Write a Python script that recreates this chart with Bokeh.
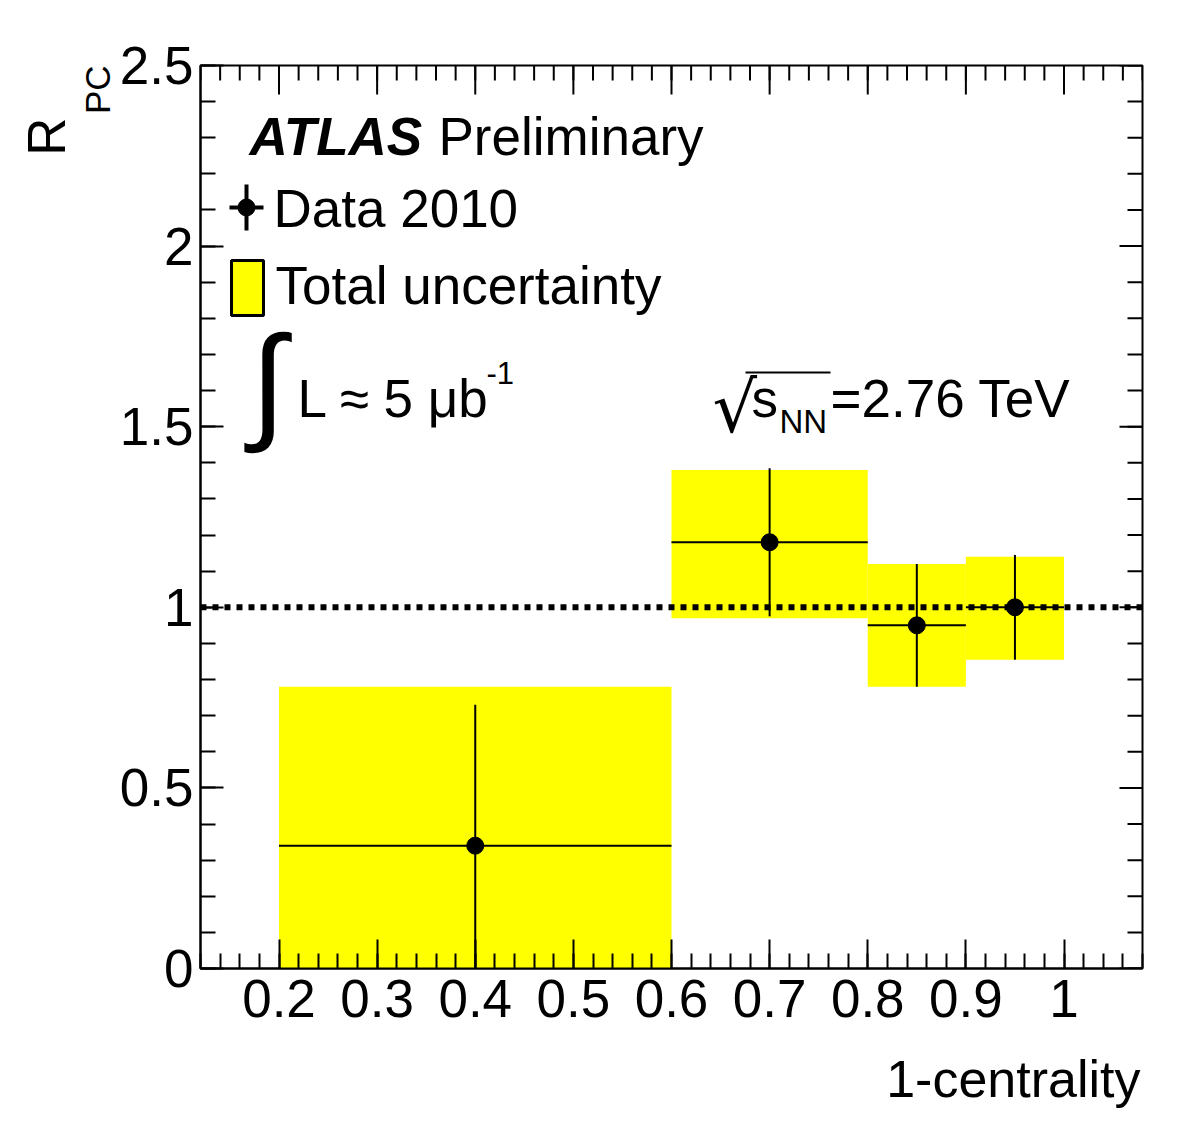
import math
from bokeh.plotting import figure
from bokeh.models import Label, Span, FixedTicker, Range1d, ColumnDataSource, Title
from bokeh.embed import file_html
from bokeh.resources import INLINE

# ---------------- data ----------------
bin_lo = [0.2, 0.6, 0.8, 0.9]
bin_hi = [0.6, 0.8, 0.9, 1.0]
bin_center = [0.4, 0.7, 0.85, 0.95]
rpc = [0.34, 1.18, 0.95, 1.00]
stat_err = [0.39, 0.205, 0.17, 0.145]
tot_err_up = [0.44, 0.20, 0.17, 0.14]
tot_err_dn = [0.44, 0.21, 0.17, 0.145]

x_ticks = [0.2, 0.3, 0.4, 0.5, 0.6, 0.7, 0.8, 0.9, 1.0]
x_tick_labels = ["0.2", "0.3", "0.4", "0.5", "0.6", "0.7", "0.8", "0.9", "1"]
y_ticks = [0.0, 0.5, 1.0, 1.5, 2.0, 2.5]
y_tick_labels = ["0", "0.5", "1", "1.5", "2", "2.5"]

X0, X1 = 0.12, 1.08
Y0, Y1 = 0.0, 2.5

FONT = "Liberation Sans"

# frame placement in pixels
FL, FR, FT, FB = 200, 1142, 65, 968
W, H = 1178, 1137
p = figure(width=W, height=H, x_range=Range1d(X0, X1), y_range=Range1d(Y0, Y1),
           output_backend="svg", toolbar_location=None,
           min_border_left=FL, min_border_right=W - FR,
           min_border_top=FT, min_border_bottom=H - FB)
p.grid.visible = False
p.background_fill_color = "white"
p.border_fill_color = "white"
p.outline_line_color = "black"
p.outline_line_width = 2

DX = (X1 - X0) / (FR - FL)   # data per pixel (x)
DY = (Y1 - Y0) / (FB - FT)   # data per pixel (y)


def PX(px):
    return X0 + (px - FL) * DX


def PY(py):
    return Y0 + (FB - py) * DY


x_minor = [round(0.12 + 0.02 * i, 2) for i in range(49)]
y_minor = [round(0.1 * i, 1) for i in range(26)]

X_MAJ, Y_MAJ, MIN_LEN = 29, 23, 15


def style_axis(ax, ticks, minor, major_len, labels, standoff):
    ax.ticker = FixedTicker(ticks=ticks, minor_ticks=minor)
    ax.axis_line_color = "black"
    ax.axis_line_width = 2
    ax.major_tick_line_color = "black"
    ax.major_tick_line_width = 2
    ax.minor_tick_line_color = "black"
    ax.minor_tick_line_width = 2
    ax.major_tick_in = major_len
    ax.major_tick_out = 0
    ax.minor_tick_in = MIN_LEN
    ax.minor_tick_out = 0
    ax.major_label_overrides = {t: l for t, l in zip(ticks, labels)}
    ax.major_label_text_font = FONT
    ax.major_label_text_font_size = "53px"
    ax.major_label_text_color = "black"
    ax.major_label_standoff = standoff


style_axis(p.xaxis[0], x_ticks, x_minor, X_MAJ, x_tick_labels, 11)
style_axis(p.yaxis[0], y_ticks, y_minor, Y_MAJ, y_tick_labels, 7)

# mirrored ticks on top and right edges (no labels)
tick_kw = dict(line_color="black", line_width=2)
p.segment(x0=x_ticks, x1=x_ticks, y0=[Y1] * len(x_ticks),
          y1=[Y1 - X_MAJ * DY] * len(x_ticks), **tick_kw)
p.segment(x0=x_minor, x1=x_minor, y0=[Y1] * len(x_minor),
          y1=[Y1 - MIN_LEN * DY] * len(x_minor), **tick_kw)
p.segment(x0=[X1] * len(y_ticks), x1=[X1 - Y_MAJ * DX] * len(y_ticks),
          y0=y_ticks, y1=y_ticks, **tick_kw)
p.segment(x0=[X1] * len(y_minor), x1=[X1 - MIN_LEN * DX] * len(y_minor),
          y0=y_minor, y1=y_minor, **tick_kw)

# ---------------- data marks ----------------
src = ColumnDataSource(dict(
    lo=bin_lo, hi=bin_hi, x=bin_center, y=rpc,
    top=[v + e for v, e in zip(rpc, tot_err_up)],
    bottom=[v - e for v, e in zip(rpc, tot_err_dn)],
    ys0=[v - e for v, e in zip(rpc, stat_err)],
    ys1=[v + e for v, e in zip(rpc, stat_err)],
))

p.quad(left="lo", right="hi", top="top", bottom="bottom", source=src,
       fill_color="#FFFF00", line_color=None)

p.add_layout(Span(location=1.0, dimension="width", line_color="black",
                  line_width=6, line_dash="6 6"))

p.segment(x0="x", x1="x", y0="ys0", y1="ys1", source=src, line_color="black", line_width=2)
p.segment(x0="lo", x1="hi", y0="y", y1="y", source=src, line_color="black", line_width=2)
p.scatter(x="x", y="y", source=src, size=17, marker="circle",
          fill_color="black", line_color="black")


# ---------------- legend / annotations ----------------
def lab(text, px, py, size=53, style="normal", align="left", font=FONT, corr=0.36):
    # py is the wanted baseline (page px); corr compensates the renderer's baseline shift
    p.add_layout(Label(x=PX(px), y=PY(py - corr * size), text=text, text_font=font,
                       text_font_size=f"{size}px", text_font_style=style,
                       text_align=align, text_baseline="alphabetic",
                       text_color="black"))


lab("ATLAS", 249, 155, style="bold italic")
lab("Preliminary", 438, 155)

# Data 2010 legend symbol
p.segment(x0=[PX(246)], x1=[PX(246)], y0=[PY(184)], y1=[PY(230)], line_color="black", line_width=4)
p.segment(x0=[PX(229)], x1=[PX(263)], y0=[PY(207)], y1=[PY(207)], line_color="black", line_width=4)
p.scatter(x=[PX(246)], y=[PY(207)], size=17, marker="circle", fill_color="black", line_color="black")
lab("Data 2010", 273, 227)

# Total uncertainty legend box
p.quad(left=[PX(231)], right=[PX(263)], top=[PY(260)], bottom=[PY(315)],
       fill_color="#FFFF00", line_color="black", line_width=3)
lab("Total uncertainty", 275, 304)

# luminosity
lab("\u222B", 250, 381, size=128, corr=0.0)
lab("L \u2248 5 \u03BCb", 297, 417)
lab("-1", 486, 384, size=31)

# sqrt(s_NN)
lab("\u221A", 712, 407, size=70, font="DejaVu Sans", corr=0.0)
p.segment(x0=[PX(745)], x1=[PX(830)], y0=[PY(372)], y1=[PY(372)], line_color="black", line_width=2)
lab("s", 751, 417)
lab("NN", 779, 433, size=33)
lab("=2.76 TeV", 830, 417)

# ---------------- axis titles (side-panel titles) ----------------
p.add_layout(Title(text="1-centrality", align="right", text_font=FONT,
                   text_font_size="52px", text_font_style="normal",
                   text_color="black", standoff=56, offset=2), "below")

p.add_layout(Title(text="PC", align="right", text_font=FONT,
                   text_font_size="35px", text_font_style="normal",
                   text_color="black", standoff=0, offset=0), "left")
p.add_layout(Title(text="R", align="right", text_font=FONT,
                   text_font_size="53px", text_font_style="normal",
                   text_color="black", standoff=0, offset=52), "left")

open("out.html", "w").write(file_html(p, INLINE))
